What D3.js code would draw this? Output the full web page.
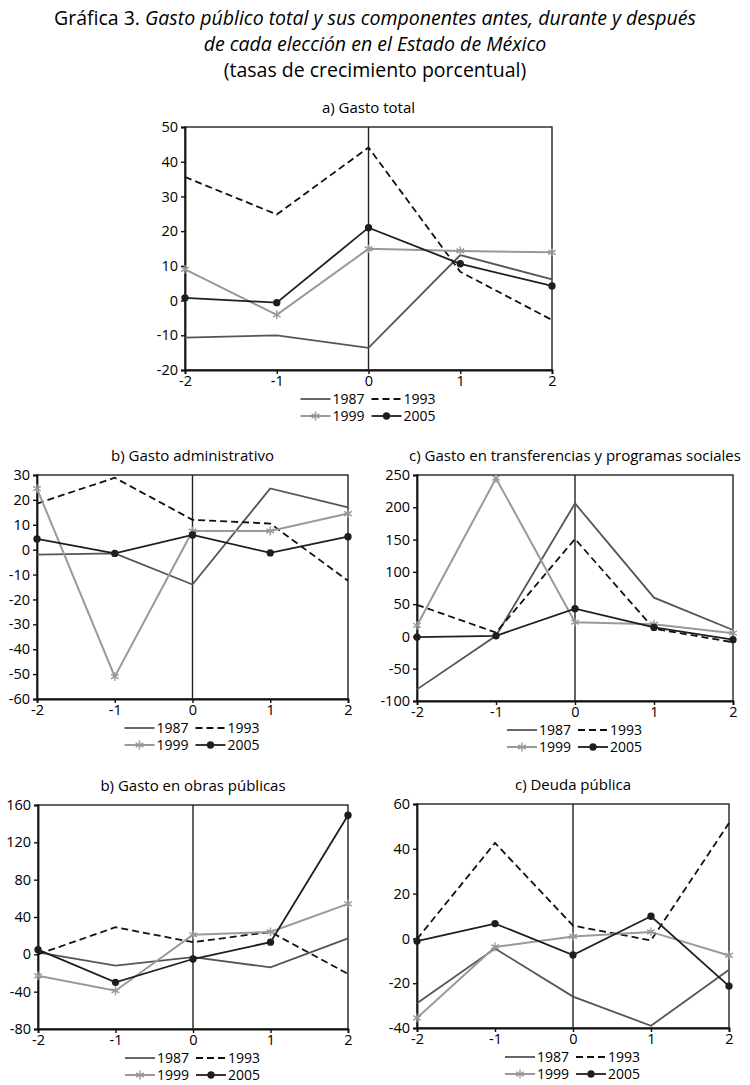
<!DOCTYPE html>
<html>
<head>
<meta charset="utf-8">
<script src="https://cdn.jsdelivr.net/npm/d3@7"></script>
<style>
  body { margin: 0; background: #fff; }
  svg { font-family: "Open Sans", "Noto Sans", sans-serif; }
</style>
</head>
<body>
<svg width="750" height="1085"></svg>
<script>
// periodos respecto a la elección
const periods = [-2, -1, 0, 1, 2];
const years = ["1987", "1993", "1999", "2005"];

// a) Gasto total  (1987, 1993, 1999, 2005)
const gastoTotal = [
  [-10.7, -10.0, -13.6, 13.1, 6.1],
  [35.6, 24.8, 44.1, 8.3, -5.6],
  [9.0, -4.1, 14.9, 14.3, 13.9],
  [0.8, -0.6, 21.0, 10.6, 4.2]
];
const ticksTotal = [-20, -10, 0, 10, 20, 30, 40, 50];

// b) Gasto administrativo
const gastoAdmin = [
  [-2.0, -1.5, -14.0, 24.6, 17.0],
  [18.5, 28.9, 12.0, 10.5, -12.5],
  [24.5, -51.0, 7.5, 7.5, 14.5],
  [4.3, -1.5, 5.9, -1.3, 5.2]
];
const ticksAdmin = [-60, -50, -40, -30, -20, -10, 0, 10, 20, 30];

// c) Gasto en transferencias y programas sociales
const gastoTransf = [
  [-82, 1, 206, 60, 10],
  [49, 6, 151, 12, -9],
  [17, 245, 22, 19, 5],
  [-1, 1, 43, 14, -5]
];
const ticksTransf = [-100, -50, 0, 50, 100, 150, 200, 250];

// d) Gasto en obras públicas
const gastoObras = [
  [2, -12, -3, -14, 17],
  [0, 29, 13, 24, -21],
  [-23, -39, 21, 24, 54],
  [5, -30, -5, 13, 149]
];
const ticksObras = [-80, -40, 0, 40, 80, 120, 160];

// e) Deuda pública
const deuda = [
  [-29, -4.5, -26, -39, -14],
  [-0.3, 42.6, 5.7, -0.9, 51.5],
  [-35.5, -3.8, 0.9, 2.9, -7.6],
  [-1.2, 6.6, -7.4, 9.9, -21.3]
];
const ticksDeuda = [-40, -20, 0, 20, 40, 60];

const styles = [
  { stroke: "#555", width: 1.8, dash: null, marker: null },
  { stroke: "#111", width: 1.8, dash: "7,4", marker: null },
  { stroke: "#999", width: 2, dash: null, marker: "star" },
  { stroke: "#1e1e1e", width: 1.8, dash: null, marker: "dot" }
];

const panels = [
  { title: "a) Gasto total", data: gastoTotal, ticks: ticksTotal,
    x0: 185, x1: 552, y0: 127, y1: 370 },
  { title: "b) Gasto administrativo", data: gastoAdmin, ticks: ticksAdmin,
    x0: 37, x1: 348, y0: 475, y1: 699 },
  { title: "c) Gasto en transferencias y programas sociales", data: gastoTransf, ticks: ticksTransf,
    x0: 417, x1: 733, y0: 475, y1: 701 },
  { title: "b) Gasto en obras públicas", data: gastoObras, ticks: ticksObras,
    x0: 38, x1: 348, y0: 805, y1: 1029 },
  { title: "c) Deuda pública", data: deuda, ticks: ticksDeuda,
    x0: 417, x1: 729, y0: 804, y1: 1028 }
];

const svg = d3.select("svg");

// título
const title = svg.append("g").attr("text-anchor", "middle").attr("font-size", 19.5).attr("fill", "#000");
title.append("text").attr("x", 375).attr("y", 25)
  .call(t => t.append("tspan").text("Gráfica 3. "))
  .call(t => t.append("tspan").attr("font-style", "italic").text("Gasto público total y sus componentes antes, durante y después"));
title.append("text").attr("x", 375).attr("y", 51).attr("font-style", "italic").text("de cada elección en el Estado de México");
title.append("text").attr("x", 375).attr("y", 77).text("(tasas de crecimiento porcentual)");

const star = d3.symbol().type(d3.symbolAsterisk).size(55);
const dot = d3.symbol().type(d3.symbolCircle).size(42);

panels.forEach(p => {
  const g = svg.append("g");
  const x = d3.scaleLinear().domain([-2, 2]).range([p.x0, p.x1]);
  const y = d3.scaleLinear().domain(d3.extent(p.ticks)).range([p.y1, p.y0]);

  g.append("text")
    .attr("x", (p.x0 + p.x1) / 2).attr("y", p.y0 - 14)
    .attr("text-anchor", "middle").attr("font-size", 15).attr("fill", "#000")
    .text(p.title);

  // marco
  g.append("rect")
    .attr("x", p.x0).attr("y", p.y0)
    .attr("width", p.x1 - p.x0).attr("height", p.y1 - p.y0)
    .attr("fill", "none").attr("stroke", "#222").attr("stroke-width", 1.4);

  const yAxis = g.append("g")
    .attr("transform", `translate(${p.x0},0)`)
    .call(d3.axisLeft(y).tickValues(p.ticks).tickSize(4).tickPadding(3));
  const xAxis = g.append("g")
    .attr("transform", `translate(0,${p.y1})`)
    .call(d3.axisBottom(x).tickValues(periods).tickFormat(d3.format("d")).tickSize(4).tickPadding(2));
  [yAxis, xAxis].forEach(a => {
    a.select(".domain").attr("stroke", "#111").attr("stroke-width", 1.8);
    a.selectAll(".tick line").attr("stroke", "#111").attr("stroke-width", 1.4);
    a.selectAll("text").attr("font-size", 14.5).attr("fill", "#000")
      .attr("font-family", "'Open Sans', 'Noto Sans', sans-serif");
  });
  xAxis.selectAll("text").text(d => d < 0 ? "-" + Math.abs(d) : d);
  yAxis.selectAll("text").text(d => d < 0 ? "-" + Math.abs(d) : d);

  // línea de la elección
  g.append("line")
    .attr("x1", x(0)).attr("x2", x(0)).attr("y1", p.y0).attr("y2", p.y1)
    .attr("stroke", "#222").attr("stroke-width", 1.4);

  const line = d3.line().x((d, i) => x(periods[i])).y(d => y(d));

  p.data.forEach((vals, k) => {
    const s = styles[k];
    g.append("path")
      .attr("d", line(vals))
      .attr("fill", "none")
      .attr("stroke", s.stroke)
      .attr("stroke-width", s.width)
      .attr("stroke-dasharray", s.dash);
    if (s.marker === "star") {
      g.selectAll(null).data(vals).join("path")
        .attr("transform", (d, i) => `translate(${x(periods[i])},${y(d)})`)
        .attr("d", star).attr("fill", "none").attr("stroke", s.stroke).attr("stroke-width", 1.4);
    } else if (s.marker === "dot") {
      g.selectAll(null).data(vals).join("path")
        .attr("transform", (d, i) => `translate(${x(periods[i])},${y(d)})`)
        .attr("d", dot).attr("fill", s.stroke);
    }
  });

  // leyenda
  const cx = (p.x0 + p.x1) / 2;
  const leg = g.append("g").attr("font-size", 14).attr("fill", "#000");
  const cols = [cx - 68, cx + 3];
  years.forEach((yr, k) => {
    const s = styles[k];
    const lx = cols[k % 2];
    const ly = p.y1 + (k < 2 ? 29 : 46);
    leg.append("line")
      .attr("x1", lx).attr("x2", lx + 30).attr("y1", ly).attr("y2", ly)
      .attr("stroke", s.stroke).attr("stroke-width", s.width)
      .attr("stroke-dasharray", s.dash);
    if (s.marker === "star") {
      leg.append("path").attr("transform", `translate(${lx + 15},${ly})`)
        .attr("d", star).attr("fill", "none").attr("stroke", s.stroke).attr("stroke-width", 1.4);
    } else if (s.marker === "dot") {
      leg.append("path").attr("transform", `translate(${lx + 15},${ly})`)
        .attr("d", dot).attr("fill", s.stroke);
    }
    leg.append("text").attr("x", lx + 32).attr("y", ly).attr("dy", "0.35em").text(yr);
  });
});
</script>
</body>
</html>
